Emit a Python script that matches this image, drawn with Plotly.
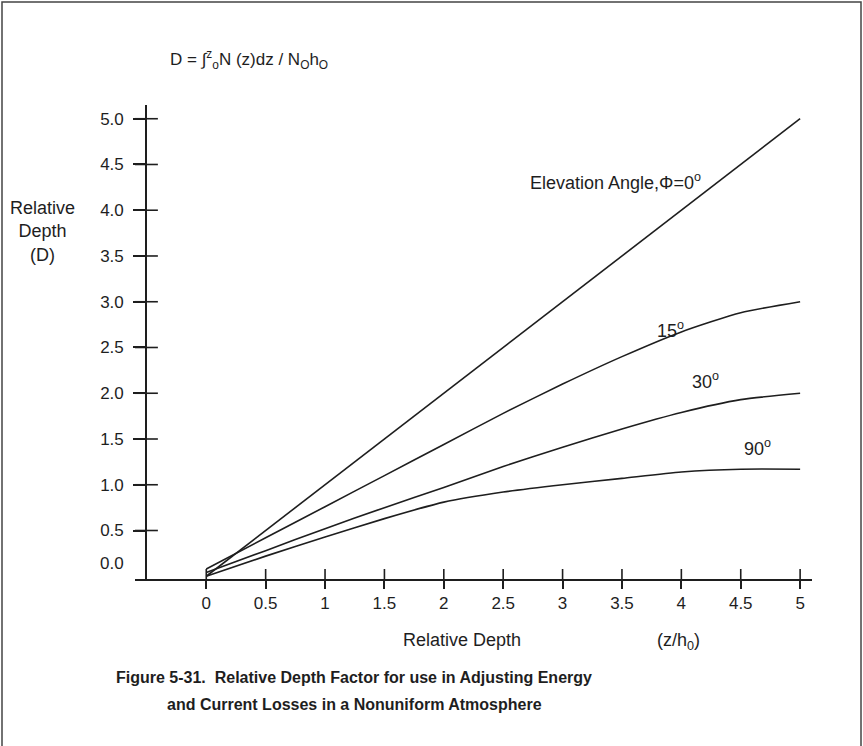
import plotly.graph_objects as go

# ---------------- data ----------------
x_vals = [0, 0.5, 1.0, 1.5, 2.0, 2.5, 3.0, 3.5, 4.0, 4.5, 5.0]
d_0 = [0.0, 0.5, 1.0, 1.5, 2.0, 2.5, 3.0, 3.5, 4.0, 4.5, 5.0]
d_15 = [0.08, 0.42, 0.76, 1.10, 1.44, 1.78, 2.10, 2.40, 2.67, 2.88, 3.0]
d_30 = [0.04, 0.28, 0.52, 0.75, 0.97, 1.20, 1.41, 1.61, 1.79, 1.93, 2.0]
d_90 = [0.0, 0.22, 0.43, 0.63, 0.81, 0.92, 1.00, 1.07, 1.14, 1.17, 1.17]

x_ticks = [0, 0.5, 1, 1.5, 2, 2.5, 3, 3.5, 4, 4.5, 5]
x_ticktext = ["0", "0.5", "1", "1.5", "2", "2.5", "3", "3.5", "4", "4.5", "5"]
y_ticks = [0.5, 1.0, 1.5, 2.0, 2.5, 3.0, 3.5, 4.0, 4.5, 5.0]
y_ticktext = ["0.5", "1.0", "1.5", "2.0", "2.5", "3.0", "3.5", "4.0", "4.5", "5.0"]

# ---------------- layout geometry ----------------
W, H = 863, 746
ML, MR, MT, MB = 135, 51, 105, 167
PW, PH = W - ML - MR, H - MT - MB
X_RANGE = [-0.6, 5.1]
Y_RANGE = [-0.03, 5.15]
Y_AXIS_X = -0.5

def xp(px):
    return (px - ML) / PW

def yp(py):
    return (H - MB - py) / PH

INK = "#1e1e1e"
FONT = "Liberation Sans, Arial, Helvetica, sans-serif"
FS = 18
TFS = 17

fig = go.Figure()
for ys, shape in [(d_0, "linear"), (d_15, "spline"), (d_30, "spline"), (d_90, "spline")]:
    fig.add_trace(go.Scatter(
        x=x_vals, y=ys, mode="lines",
        line=dict(color=INK, width=1.6, shape=shape, smoothing=0.6),
        showlegend=False, hoverinfo="skip",
    ))

shapes = []
# crossing tick marks (full length, both sides of the axis lines)
for t in x_ticks:
    shapes.append(dict(type="line", xref="x", yref="y", x0=t, x1=t,
                       ysizemode="pixel", yanchor=Y_RANGE[0], y0=-10, y1=10,
                       line=dict(color=INK, width=1.6)))
for t in y_ticks:
    shapes.append(dict(type="line", xref="x", yref="y", y0=t, y1=t,
                       xsizemode="pixel", xanchor=Y_AXIS_X, x0=-12, x1=11,
                       line=dict(color=INK, width=1.6)))
# outer frame
shapes.append(dict(type="rect", xref="paper", yref="paper",
                   x0=xp(2), x1=xp(861), y0=yp(760), y1=yp(2),
                   line=dict(color="#444444", width=1.5)))

ann = []
def add(text, x, y, xanchor="left", size=FS, yanchor="middle", weight=None, **kw):
    f = dict(family=FONT, size=size, color=INK)
    ann.append(dict(text=text, x=xp(x), y=yp(y), xref="paper", yref="paper",
                    xanchor=xanchor, yanchor=yanchor, showarrow=False,
                    font=f, **kw))

add("D = ∫<sup>z</sup><sub>o</sub>N (z)dz / N<sub>O</sub>h<sub>O</sub>", 168, 60, size=17)
add("Relative<br>Depth<br>(D)", 42, 232, xanchor="center", align="center")
add("Elevation Angle,Φ=0<sup>o</sup>", 528, 181)
add("15<sup>o</sup>", 655, 329)
add("30<sup>o</sup>", 690, 380)
add("90<sup>o</sup>", 742, 447)
add("Relative Depth", 462, 640, xanchor="center")
add("(z/h<sub>0</sub>)", 678, 641, xanchor="center")
add("0.0", 126, 563, xanchor="right", size=TFS)
add("<b>Figure 5-31.\u00a0 Relative Depth Factor for use in Adjusting Energy</b>",
    354, 677, xanchor="center", size=16)
add("<b>and Current Losses in a Nonuniform Atmosphere</b>",
    354, 704, xanchor="center", size=16)

fig.update_layout(
    width=W, height=H,
    margin=dict(l=ML, r=MR, t=MT, b=MB, pad=0),
    paper_bgcolor="white", plot_bgcolor="white",
    xaxis=dict(range=X_RANGE, tickvals=x_ticks, ticktext=x_ticktext,
               ticks="outside", ticklen=8, tickwidth=1.6, tickcolor=INK,
               showline=True, linecolor=INK, linewidth=1.6,
               showgrid=False, zeroline=False,
               tickfont=dict(family=FONT, size=TFS, color=INK)),
    yaxis=dict(range=Y_RANGE, tickvals=y_ticks, ticktext=y_ticktext,
               anchor="free", position=xp(146),
               ticks="outside", ticklen=12, tickwidth=1.6, tickcolor=INK,
               ticklabelstandoff=6,
               showline=True, linecolor=INK, linewidth=1.6,
               showgrid=False, zeroline=False,
               tickfont=dict(family=FONT, size=TFS, color=INK)),
    shapes=shapes, annotations=ann,
)

fig.write_html("out.html",
               config={"displayModeBar": False},
               post_script="document.body.style.margin='0px';"
                           "document.body.style.overflow='hidden';")
